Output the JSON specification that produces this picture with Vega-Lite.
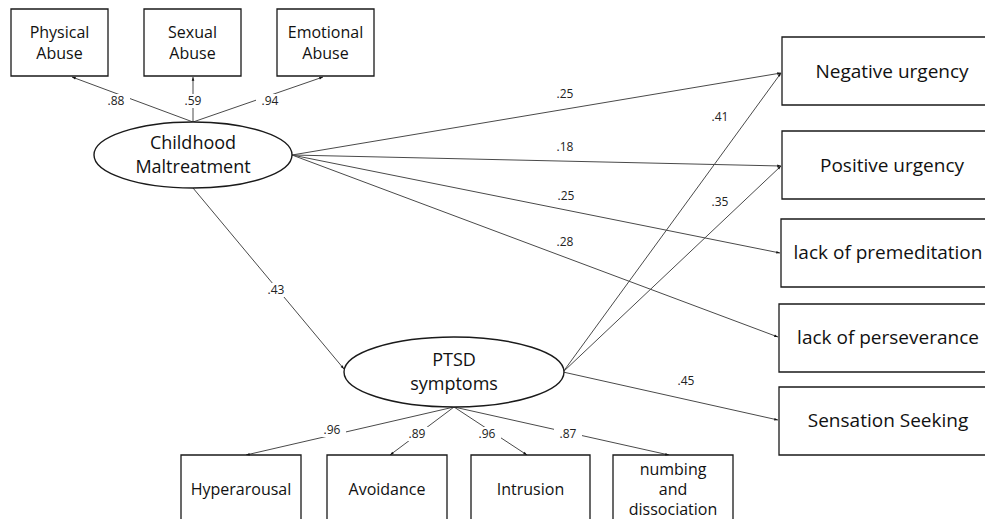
{
  "$schema": "https://vega.github.io/schema/vega-lite/v6.json",
  "width": 985,
  "height": 519,
  "padding": 0,
  "autosize": {"type": "none"},
  "background": "white",
  "config": {"view": {"stroke": null}},
  "datasets": {
    "boxes": [
      {"name": "Physical Abuse", "x": 11, "x2": 108, "y": 9, "y2": 76},
      {"name": "Sexual Abuse", "x": 144, "x2": 241, "y": 9, "y2": 76},
      {"name": "Emotional Abuse", "x": 277, "x2": 374, "y": 9, "y2": 76},
      {"name": "Negative urgency", "x": 782, "x2": 1100, "y": 37, "y2": 105},
      {"name": "Positive urgency", "x": 782, "x2": 1100, "y": 131, "y2": 199},
      {"name": "lack of premeditation", "x": 781, "x2": 1100, "y": 219, "y2": 287},
      {"name": "lack of perseverance", "x": 779, "x2": 1100, "y": 304, "y2": 372},
      {"name": "Sensation Seeking", "x": 779, "x2": 1100, "y": 387, "y2": 455},
      {"name": "Hyperarousal", "x": 181, "x2": 301, "y": 455, "y2": 600},
      {"name": "Avoidance", "x": 327, "x2": 447, "y": 455, "y2": 600},
      {"name": "Intrusion", "x": 471, "x2": 590, "y": 455, "y2": 600},
      {"name": "numbing and dissociation", "x": 613, "x2": 733, "y": 455, "y2": 600}
    ],
    "latents": [
      {"name": "Childhood Maltreatment", "x": 193, "y": 155},
      {"name": "PTSD symptoms", "x": 454, "y": 372}
    ],
    "paths": [
      {"from": "Childhood Maltreatment", "to": "Physical Abuse", "x": 193, "y": 122, "x2": 72, "y2": 77, "angle": -69.6},
      {"from": "Childhood Maltreatment", "to": "Sexual Abuse", "x": 193, "y": 122, "x2": 193, "y2": 77, "angle": 0},
      {"from": "Childhood Maltreatment", "to": "Emotional Abuse", "x": 193, "y": 122, "x2": 323, "y2": 77, "angle": 70.9},
      {"from": "Childhood Maltreatment", "to": "Negative urgency", "x": 292, "y": 155, "x2": 781, "y2": 73, "angle": 80.5},
      {"from": "Childhood Maltreatment", "to": "Positive urgency", "x": 292, "y": 155, "x2": 781, "y2": 166, "angle": 91.3},
      {"from": "Childhood Maltreatment", "to": "lack of premeditation", "x": 292, "y": 155, "x2": 780, "y2": 253, "angle": 101.4},
      {"from": "Childhood Maltreatment", "to": "lack of perseverance", "x": 292, "y": 155, "x2": 778, "y2": 337, "angle": 110.5},
      {"from": "Childhood Maltreatment", "to": "PTSD symptoms", "x": 193, "y": 188, "x2": 344, "y2": 369, "angle": 140.2},
      {"from": "PTSD symptoms", "to": "Negative urgency", "x": 563, "y": 372, "x2": 781, "y2": 73, "angle": 36.0},
      {"from": "PTSD symptoms", "to": "Positive urgency", "x": 563, "y": 372, "x2": 781, "y2": 166, "angle": 46.5},
      {"from": "PTSD symptoms", "to": "Sensation Seeking", "x": 563, "y": 372, "x2": 778, "y2": 420, "angle": 102.5},
      {"from": "PTSD symptoms", "to": "Hyperarousal", "x": 454, "y": 407, "x2": 246, "y2": 455, "angle": -103.0},
      {"from": "PTSD symptoms", "to": "Avoidance", "x": 454, "y": 407, "x2": 390, "y2": 455, "angle": -126.9},
      {"from": "PTSD symptoms", "to": "Intrusion", "x": 454, "y": 407, "x2": 527, "y2": 455, "angle": 123.3},
      {"from": "PTSD symptoms", "to": "numbing and dissociation", "x": 454, "y": 407, "x2": 669, "y2": 455, "angle": 102.6}
    ],
    "coefs": [
      {"t": ".88", "x": 116, "y": 101, "gap": true},
      {"t": ".59", "x": 193, "y": 101, "gap": true},
      {"t": ".94", "x": 270, "y": 101, "gap": true},
      {"t": ".25", "x": 565, "y": 94, "gap": false},
      {"t": ".18", "x": 565, "y": 147, "gap": false},
      {"t": ".25", "x": 566, "y": 196, "gap": false},
      {"t": ".28", "x": 565, "y": 242, "gap": false},
      {"t": ".41", "x": 720, "y": 117, "gap": false},
      {"t": ".35", "x": 720, "y": 202, "gap": false},
      {"t": ".43", "x": 276, "y": 290, "gap": true},
      {"t": ".45", "x": 686, "y": 381, "gap": false},
      {"t": ".96", "x": 332, "y": 430, "gap": true},
      {"t": ".89", "x": 417, "y": 434, "gap": true},
      {"t": ".96", "x": 487, "y": 434, "gap": true},
      {"t": ".87", "x": 568, "y": 434, "gap": true}
    ],
    "texts": [
      {"kind": "small", "t": "Physical\nAbuse", "x": 59.5, "y": 33},
      {"kind": "small", "t": "Sexual\nAbuse", "x": 192.5, "y": 33},
      {"kind": "small", "t": "Emotional\nAbuse", "x": 325.5, "y": 33},
      {"kind": "latent", "t": "Childhood\nMaltreatment", "x": 193, "y": 144},
      {"kind": "latent", "t": "PTSD\nsymptoms", "x": 454, "y": 361},
      {"kind": "right", "t": "Negative urgency", "x": 892, "y": 72},
      {"kind": "right", "t": "Positive urgency", "x": 892, "y": 166},
      {"kind": "right", "t": "lack of premeditation", "x": 888, "y": 253},
      {"kind": "right", "t": "lack of perseverance", "x": 888, "y": 338},
      {"kind": "right", "t": "Sensation Seeking", "x": 888, "y": 421},
      {"kind": "bottom", "t": "Hyperarousal", "x": 241, "y": 490},
      {"kind": "bottom", "t": "Avoidance", "x": 387, "y": 490},
      {"kind": "bottom", "t": "Intrusion", "x": 530.5, "y": 490},
      {"kind": "bottom", "t": "numbing\nand\ndissociation", "x": 673, "y": 470}
    ]
  },
  "layer": [
    {
      "data": {"name": "paths"},
      "mark": {"type": "rule", "stroke": "#4a4a4a", "strokeWidth": 1},
      "encoding": {
        "x": {"field": "x", "type": "quantitative", "scale": {"domain": [0, 985], "nice": false, "zero": false}, "axis": null},
        "y": {"field": "y", "type": "quantitative", "scale": {"domain": [0, 519], "nice": false, "zero": false, "reverse": true}, "axis": null},
        "x2": {"field": "x2"},
        "y2": {"field": "y2"}
      }
    },
    {
      "data": {"name": "coefs"},
      "transform": [{"filter": "datum.gap"}],
      "mark": {"type": "point", "shape": "M-1,-0.5L1,-0.5L1,0.5L-1,0.5Z", "filled": true, "fill": "white", "strokeWidth": 0, "opacity": 1, "size": 784},
      "encoding": {
        "x": {"field": "x", "type": "quantitative"},
        "y": {"field": "y", "type": "quantitative"}
      }
    },
    {
      "data": {"name": "latents"},
      "transform": [{"filter": "datum.name === 'Childhood Maltreatment'"}],
      "mark": {"type": "point", "shape": "M-1,0A1,0.333,0,1,1,1,0A1,0.333,0,1,1,-1,0Z", "filled": false, "fill": "white", "fillOpacity": 1, "stroke": "#1a1a1a", "strokeWidth": 1.4, "opacity": 1, "size": 39204},
      "encoding": {
        "x": {"field": "x", "type": "quantitative"},
        "y": {"field": "y", "type": "quantitative"}
      }
    },
    {
      "data": {"name": "latents"},
      "transform": [{"filter": "datum.name === 'PTSD symptoms'"}],
      "mark": {"type": "point", "shape": "M-1,0A1,0.318,0,1,1,1,0A1,0.318,0,1,1,-1,0Z", "filled": false, "fill": "white", "fillOpacity": 1, "stroke": "#1a1a1a", "strokeWidth": 1.4, "opacity": 1, "size": 48400},
      "encoding": {
        "x": {"field": "x", "type": "quantitative"},
        "y": {"field": "y", "type": "quantitative"}
      }
    },
    {
      "data": {"name": "boxes"},
      "mark": {"type": "rect", "fill": "white", "stroke": "#1a1a1a", "strokeWidth": 1.3},
      "encoding": {
        "x": {"field": "x", "type": "quantitative"},
        "x2": {"field": "x2"},
        "y": {"field": "y", "type": "quantitative"},
        "y2": {"field": "y2"}
      }
    },
    {
      "data": {"name": "paths"},
      "mark": {"type": "point", "shape": "M0,0L-0.7,2L0.7,2Z", "filled": true, "fill": "#111", "strokeWidth": 0, "opacity": 1, "size": 14},
      "encoding": {
        "x": {"field": "x2", "type": "quantitative"},
        "y": {"field": "y2", "type": "quantitative"},
        "angle": {"field": "angle", "type": "quantitative", "scale": null}
      }
    },
    {
      "data": {"name": "texts"},
      "transform": [{"filter": "datum.kind === 'small'"}],
      "mark": {"type": "text", "font": "Open Sans", "fontSize": 16, "lineBreak": "\n", "lineHeight": 21, "align": "center", "baseline": "middle", "fill": "#111"},
      "encoding": {
        "x": {"field": "x", "type": "quantitative"},
        "y": {"field": "y", "type": "quantitative"},
        "text": {"field": "t"}
      }
    },
    {
      "data": {"name": "texts"},
      "transform": [{"filter": "datum.kind === 'latent'"}],
      "mark": {"type": "text", "font": "Open Sans", "fontSize": 18, "lineBreak": "\n", "lineHeight": 24, "align": "center", "baseline": "middle", "fill": "#111"},
      "encoding": {
        "x": {"field": "x", "type": "quantitative"},
        "y": {"field": "y", "type": "quantitative"},
        "text": {"field": "t"}
      }
    },
    {
      "data": {"name": "texts"},
      "transform": [{"filter": "datum.kind === 'right'"}],
      "mark": {"type": "text", "font": "Open Sans", "fontSize": 19, "align": "center", "baseline": "middle", "fill": "#111"},
      "encoding": {
        "x": {"field": "x", "type": "quantitative"},
        "y": {"field": "y", "type": "quantitative"},
        "text": {"field": "t"}
      }
    },
    {
      "data": {"name": "texts"},
      "transform": [{"filter": "datum.kind === 'bottom'"}],
      "mark": {"type": "text", "font": "Open Sans", "fontSize": 16, "lineBreak": "\n", "lineHeight": 20, "align": "center", "baseline": "middle", "fill": "#111"},
      "encoding": {
        "x": {"field": "x", "type": "quantitative"},
        "y": {"field": "y", "type": "quantitative"},
        "text": {"field": "t"}
      }
    },
    {
      "data": {"name": "coefs"},
      "mark": {"type": "text", "font": "Open Sans", "fontSize": 12, "align": "center", "baseline": "middle", "fill": "#222"},
      "encoding": {
        "x": {"field": "x", "type": "quantitative"},
        "y": {"field": "y", "type": "quantitative"},
        "text": {"field": "t"}
      }
    }
  ]
}
